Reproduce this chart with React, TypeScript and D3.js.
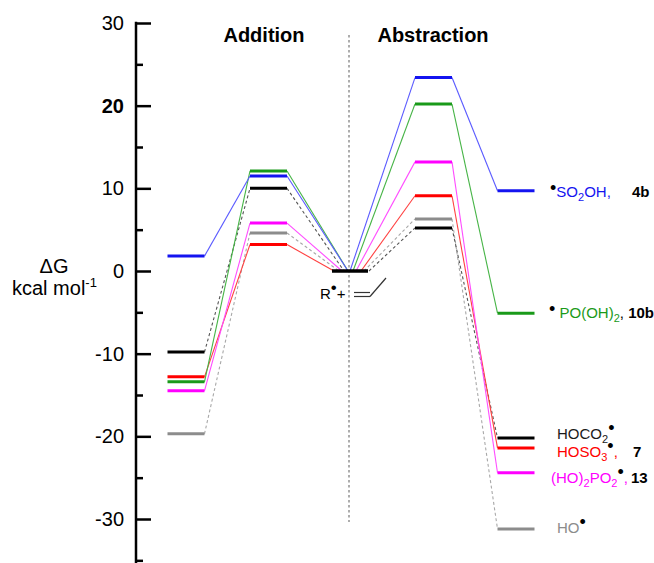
import * as d3 from "d3";
import React, { useEffect, useRef } from "react";

// reaction coordinate stages
const stages = ["adduct", "additionTS", "reactants", "abstractionTS", "products"];

// free energies (kcal/mol) per radical, in stage order
const so2ohEnergies = [1.8, 11.5, 0, 23.4, 9.7];
const poOh2Energies = [-13.4, 12.1, 0, 20.2, -5.1];
const hoco2Energies = [-9.8, 10.0, 0, 5.2, -20.2];
const hoso3Energies = [-12.8, 3.2, 0, 9.1, -21.4];
const ho2po2Energies = [-14.5, 5.8, 0, 13.2, -24.4];
const hoEnergies = [-19.7, 4.6, 0, 6.3, -31.2];

const majorTicks = [30, 20, 10, 0, -10, -20, -30];
const minorTicks = [25, 15, 5, -5, -15, -25, -35];

const W = 654;
const H = 563;
const FONT = "'Liberation Sans', Arial, Helvetica, sans-serif";

// drawing order: back to front
const series = [
  { key: "ho", values: hoEnergies, level: "#8c8c8c", line: "#a8a8a8", dash: "3,2.5", inEnd: -12, outStart: 13 },
  { key: "hoco2", values: hoco2Energies, level: "#000000", line: "#555555", dash: "3,2.5", inEnd: -7, outStart: 18 },
  { key: "hoso3", values: hoso3Energies, level: "#ff0000", line: "#ff4040", dash: null, inEnd: -17, outStart: 10 },
  { key: "ho2po2", values: ho2po2Energies, level: "#ff00ff", line: "#ff4cff", dash: null, inEnd: -9, outStart: 5 },
  { key: "pooh2", values: poOh2Energies, level: "#1a9a1a", line: "#46b446", dash: null, inEnd: -3, outStart: 2 },
  { key: "so2oh", values: so2ohEnergies, level: "#1414f0", line: "#5a5aff", dash: null, inEnd: -3, outStart: -1 },
];

export default function App() {
  const axisRef = useRef<SVGGElement>(null);

  const x = d3.scalePoint<string>().domain(stages).range([186, 516]);
  const y = d3.scaleLinear().domain([-30, 30]).range([519, 23]);
  const half = 18.5;
  const axisX = 136;

  useEffect(() => {
    const g = d3.select(axisRef.current);
    g.selectAll("*").remove();

    g.append("line")
      .attr("x1", 0).attr("x2", 0)
      .attr("y1", y(30) - 1.2).attr("y2", H + 2)
      .attr("stroke", "#000").attr("stroke-width", 2.5);

    const major = g.append("g").call(
      d3.axisLeft(y)
        .tickValues(majorTicks)
        .tickSizeInner(-15)
        .tickSizeOuter(0)
        .tickPadding(12)
        .tickFormat((d) => String(d))
    );
    const minor = g.append("g").call(
      d3.axisLeft(y)
        .tickValues(minorTicks)
        .tickSizeInner(-7)
        .tickSizeOuter(0)
        .tickFormat(() => "")
    );
    [major, minor].forEach((a) => {
      a.select(".domain").remove();
      a.selectAll(".tick line").attr("stroke", "#000").attr("stroke-width", 2.5);
    });
    major.selectAll(".tick text")
      .attr("fill", "#000")
      .style("font-family", FONT)
      .style("font-size", "20px")
      .style("font-weight", (d: any) => (d === 20 ? "bold" : "normal"));
  }, []);

  const center = x("reactants")!;

  return (
    <svg width={W} height={H} style={{ position: "absolute", left: 0, top: 0, background: "#fff" }} fontFamily={FONT}>
      {/* addition / abstraction divider */}
      <line x1={349} x2={349} y1={35} y2={522} stroke="#777" strokeWidth={1.2} strokeDasharray="2.5,2.5" />

      {/* connectors */}
      {series.map((s) => {
        const pts: [number, number][] = [
          [x(stages[0])! + half, y(s.values[0])],
          [x(stages[1])! - half, y(s.values[1])],
          [x(stages[1])! + half, y(s.values[1])],
          [center + s.inEnd, y(s.values[2])],
          [center + s.outStart, y(s.values[2])],
          [x(stages[3])! - half, y(s.values[3])],
          [x(stages[3])! + half, y(s.values[3])],
          [x(stages[4])! - half, y(s.values[4])],
        ];
        const segs = [[0, 1], [2, 3], [4, 5], [6, 7]];
        return (
          <g key={s.key + "-c"}>
            {segs.map(([a, b], i) => (
              <line key={i} x1={pts[a][0]} y1={pts[a][1]} x2={pts[b][0]} y2={pts[b][1]}
                stroke={s.line} strokeWidth={1.1} strokeDasharray={s.dash ?? undefined} />
            ))}
          </g>
        );
      })}

      {/* energy levels */}
      {series.map((s) => (
        <g key={s.key + "-l"}>
          {s.values.map((v, i) =>
            i === 2 ? null : (
              <line key={i} x1={x(stages[i])! - half} x2={x(stages[i])! + half} y1={y(v)} y2={y(v)}
                stroke={s.level} strokeWidth={3} />
            )
          )}
        </g>
      ))}
      <line x1={332} x2={368} y1={y(0)} y2={y(0)} stroke="#000" strokeWidth={3.5} />

      <g ref={axisRef} transform={`translate(${axisX},0)`} />

      {/* axis title */}
      <text x={54} y={273} textAnchor="middle" fontSize={20}>ΔG</text>
      <text x={12} y={295} fontSize={20}>
        kcal mol<tspan fontSize={13} dy={-8}>-1</tspan>
      </text>

      {/* section titles */}
      <text x={264} y={42} textAnchor="middle" fontSize={20} fontWeight="bold">Addition</text>
      <text x={433} y={42} textAnchor="middle" fontSize={20} fontWeight="bold">Abstraction</text>

      {/* reactants label: R• + propene */}
      <text x={320} y={299} fontSize={15}>
        R<tspan dy={-6} fontSize={17}>•</tspan><tspan dy={6}>+</tspan>
      </text>
      <line x1={354} x2={370} y1={292.5} y2={292.5} stroke="#333" strokeWidth={1.2} />
      <line x1={354} x2={370} y1={296.5} y2={296.5} stroke="#333" strokeWidth={1.2} />
      <line x1={370} x2={386} y1={296.5} y2={278} stroke="#333" strokeWidth={1.2} />

      {/* product labels */}
      <text x={550} y={197} fontSize={15}>
        <tspan dy={-3} fontSize={18}>•</tspan>
        <tspan dy={3} fill="#1414f0">SO</tspan>
        <tspan dy={4} fontSize={11} fill="#1414f0">2</tspan>
        <tspan dy={-4} fill="#1414f0">OH,</tspan>
      </text>
      <text x={632} y={197} fontSize={15} fontWeight="bold">4b</text>

      <text x={549} y={318} fontSize={15}>
        <tspan dy={-3} fontSize={18}>•</tspan>
        <tspan dy={3} fill="#1a9a1a"> PO(OH)</tspan>
        <tspan dy={4} fontSize={11} fill="#1a9a1a">2</tspan>
        <tspan dy={-4}>, </tspan>
        <tspan fontWeight="bold">10b</tspan>
      </text>

      <text x={557} y={439} fontSize={15} fill="#1a1a1a">
        HOCO<tspan dy={4} fontSize={11}>2</tspan><tspan dy={-9} fontSize={18} fill="#000">•</tspan>
      </text>

      <text x={557} y={457} fontSize={15} fill="#ff0000">
        HOSO<tspan dy={4} fontSize={11}>3</tspan><tspan dy={-9} fontSize={18} fill="#000">•</tspan><tspan dy={5}>,</tspan>
      </text>
      <text x={633} y={457} fontSize={15} fontWeight="bold">7</text>

      <text x={551} y={483} fontSize={15} fill="#ff00ff">
        (HO)<tspan dy={4} fontSize={11}>2</tspan><tspan dy={-4}>PO</tspan><tspan dy={4} fontSize={11}>2</tspan><tspan dy={-9} fontSize={18} fill="#000">•</tspan><tspan dy={5}>,</tspan>
      </text>
      <text x={631} y={483} fontSize={15} fontWeight="bold">13</text>

      <text x={557} y={533} fontSize={15} fill="#8c8c8c">
        HO<tspan dy={-5} fontSize={18} fill="#000">•</tspan>
      </text>
    </svg>
  );
}
